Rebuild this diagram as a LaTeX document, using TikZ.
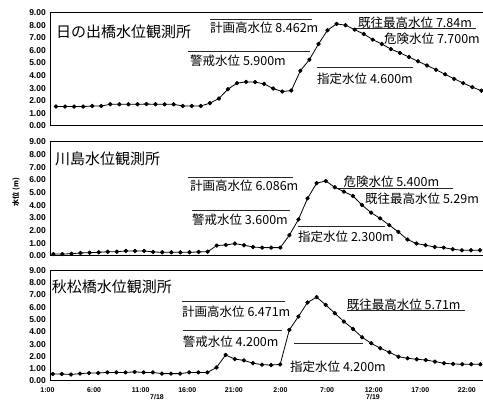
\documentclass[tikz,border=0pt]{standalone}
\usepackage{fontspec}
\setmainfont{Liberation Sans}
\newfontfamily\jp{Noto Sans CJK JP}
\begin{document}
\begin{tikzpicture}[x=1pt,y=-1pt,
  frame/.style={line width=1pt, black},
  level/.style={line width=0.8pt, black!85},
  series/.style={line width=0.8pt, black, line join=round, mark=*, mark size=1.8pt, mark options={fill=black}},
  ttl/.style={font=\jp\fontsize{15}{15}\selectfont, anchor=west, inner sep=0pt},
  lbl/.style={font=\jp\fontsize{12.5}{12.5}\selectfont, anchor=west, inner sep=0pt},
  tick/.style={font=\bfseries\fontsize{8.5}{8.5}\selectfont, anchor=east, inner sep=0pt},
  tlbl/.style={font=\bfseries\fontsize{7}{7}\selectfont, inner sep=0pt},
]
\useasboundingbox (0,0) rectangle (483,401);
\fill[white] (0,0) rectangle (483,401);

% ---------- frames ----------
\draw[frame] (483,12.5) -- (50.5,12.5) -- (50.5,126) -- (483,126);
\draw[frame] (483,141.7) -- (50.5,141.7) -- (50.5,256) -- (483,256);
\draw[frame] (483,270.5) -- (50,270.5) -- (50,381) -- (483,381);

% ---------- y tick labels ----------
\foreach \k in {0,...,9}{
  \node[tick] (ta\k) at (46,126-\k*12.61) {\k.00};
  \node[tick] (tb\k) at (46,256-\k*12.7) {\k.00};
  \node[tick] (tc\k) at (46,381-\k*12.28) {\k.00};
}
\node[font=\jp\bfseries\fontsize{7}{7}\selectfont, rotate=90, inner sep=0pt] (yt) at (16,192) {水位 (m)};

% ---------- x labels ----------
\foreach \i/\t in {0/1:00,5/6:00,10/11:00,15/16:00,20/21:00,25/2:00,30/7:00,35/12:00,40/17:00,45/22:00}{
  \node[tlbl] (x\i) at (47.5+\i*9.32,390) {\t};
}
\node[tlbl] (d1) at (157,397) {7/18};
\node[tlbl] (d2) at (373,397) {7/19};

% ---------- panel 1 ----------
\node[ttl] (t1) at (56,31.7) {日の出橋水位観測所};
\draw[level] (210,19.5) -- (312,19.5);
\node[lbl] (p1a) at (210,27.5) {計画高水位 8.462m};
\draw[level] (188,51.5) -- (310,51.5);
\node[lbl] (p1b) at (190,61) {警戒水位 5.900m};
\draw[level] (316.7,67.7) -- (413,67.7);
\node[lbl] (p1c) at (317,79) {指定水位 4.600m};
\draw[level] (355,28.5) -- (476,28.5);
\node[lbl] (p1d) at (358,22.3) {既往最高水位 7.84m};
\node[lbl] (p1e) at (384,39) {危険水位 7.700m};
\begin{scope}[shift={(56,126)}, x=9.05pt, y=12.61pt]
\draw[series] plot coordinates {(0,1.54) (1,1.54) (2,1.54) (3,1.54) (4,1.59) (5,1.59) (6,1.72) (7,1.72) (8,1.72) (9,1.72) (10,1.74) (11,1.72) (12,1.72) (13,1.72) (14,1.59) (15,1.59) (16,1.59) (17,1.81) (18,2.18) (19,2.92) (20,3.4) (21,3.5) (22,3.48) (23,3.34) (24,2.97) (25,2.73) (26,2.81) (27,4.38) (28,5.26) (29,6.5) (30,7.59) (31,8.1) (32,7.99) (33,7.64) (34,7.3) (35,6.85) (36,6.5) (37,6.1) (38,5.8) (39,5.47) (40,5.13) (41,4.8) (42,4.46) (43,4.1) (44,3.74) (45,3.4) (46,3.08) (47,2.8)};
\end{scope}

% ---------- panel 2 ----------
\node[ttl] (t2) at (55,159.3) {川島水位観測所};
\draw[level] (188.3,177.5) -- (293.3,177.5);
\node[lbl] (p2a) at (190,186) {計画高水位 6.086m};
\draw[level] (191.7,210) -- (290,210);
\node[lbl] (p2b) at (192,219.3) {警戒水位 3.600m};
\draw[level] (298.3,226.7) -- (385,226.7);
\node[lbl] (p2c) at (298,236.7) {指定水位 2.300m};
\draw[level] (336.7,188.5) -- (453.3,188.5);
\node[lbl] (p2d) at (343.3,182) {危険水位 5.400m};
\node[lbl] (p2e) at (365,198.3) {既往最高水位 5.29m};
\begin{scope}[shift={(53.3,256)}, x=9.08pt, y=12.7pt]
\draw[series] plot coordinates {(0,0.15) (1,0.15) (2,0.18) (3,0.24) (4,0.26) (5,0.29) (6,0.34) (7,0.34) (8,0.4) (9,0.4) (10,0.4) (11,0.32) (12,0.29) (13,0.29) (14,0.29) (15,0.29) (16,0.32) (17,0.34) (18,0.82) (19,0.87) (20,0.98) (21,0.85) (22,0.71) (23,0.66) (24,0.66) (25,0.66) (26,1.64) (27,2.88) (28,4.54) (29,5.73) (30,5.91) (31,5.41) (32,5.07) (33,4.73) (34,4.01) (35,3.41) (36,2.96) (37,2.43) (38,1.9) (39,1.3) (40,0.98) (41,0.85) (42,0.71) (43,0.66) (44,0.53) (45,0.45) (46,0.45) (47,0.45)};
\end{scope}

% ---------- panel 3 ----------
\node[ttl] (t3) at (51.7,286.7) {秋松橋水位観測所};
\draw[level] (181.7,301) -- (285,301);
\node[lbl] (p3a) at (182,311.7) {計画高水位 6.471m};
\draw[level] (182.7,330) -- (281.7,330);
\node[lbl] (p3b) at (182.7,341.7) {警戒水位 4.200m};
\draw[level] (294,343.3) -- (363.3,343.3);
\node[lbl] (p3c) at (290,367) {指定水位 4.200m};
\draw[level] (346.7,310.7) -- (465,310.7);
\node[lbl] (p3d) at (346.7,304.3) {既往最高水位 5.71m};
\begin{scope}[shift={(52.7,381)}, x=9.1pt, y=12.28pt]
\draw[series] plot coordinates {(0,0.57) (1,0.57) (2,0.53) (3,0.6) (4,0.65) (5,0.65) (6,0.7) (7,0.7) (8,0.7) (9,0.74) (10,0.7) (11,0.7) (12,0.6) (13,0.6) (14,0.6) (15,0.7) (16,0.7) (17,0.7) (18,1.1) (19,2.12) (20,1.79) (21,1.68) (22,1.45) (23,1.33) (24,1.3) (25,1.35) (26,4.16) (27,5.25) (28,6.39) (29,6.83) (30,6.2) (31,5.52) (32,4.84) (33,4.24) (34,3.56) (35,3.07) (36,2.67) (37,2.34) (38,1.98) (39,1.85) (40,1.77) (41,1.71) (42,1.58) (43,1.44) (44,1.39) (45,1.36) (46,1.36) (47,1.36)};
\end{scope}
\end{tikzpicture}
\end{document}
